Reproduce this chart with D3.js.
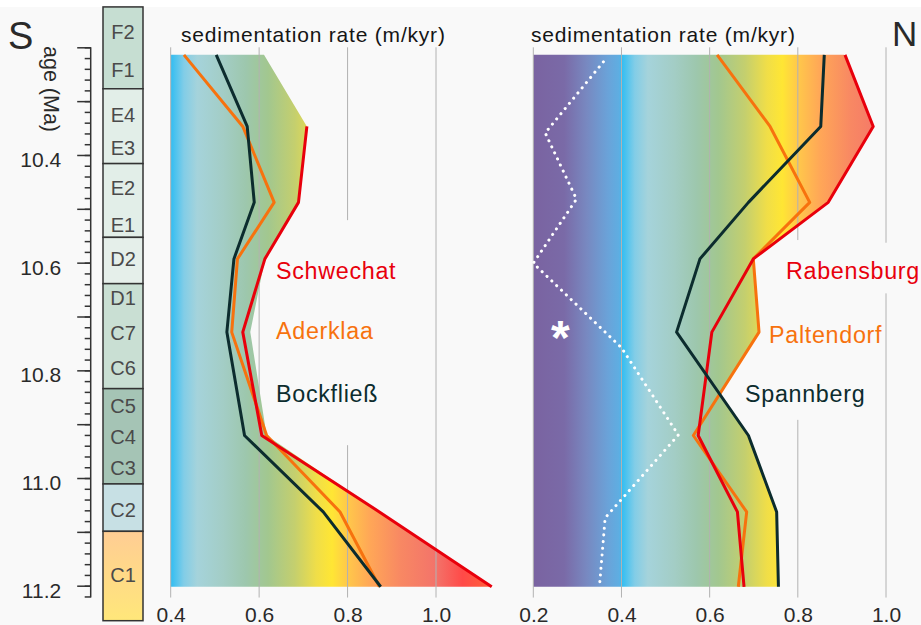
<!DOCTYPE html>
<html>
<head>
<meta charset="utf-8">
<script src="https://cdn.jsdelivr.net/npm/d3@7/dist/d3.min.js"></script>
<style>
  body { margin: 0; background: #fff; }
  text { font-family: "Liberation Sans", Arial, sans-serif; }
</style>
</head>
<body>
<svg id="chart" width="921" height="625"></svg>
<script>
// ages (Ma) of the sampled levels, shared by all six wells
var ages = [10.214, 10.347, 10.488, 10.593, 10.729, 10.921, 11.063, 11.202];

// south wells, sedimentation rate (m/kyr)
var schwechat  = [null, 0.708, 0.689, 0.613, 0.563, 0.606, 0.872, 1.126];
var aderklaa   = [0.430, 0.563, 0.634, 0.551, 0.538, 0.617, 0.783, 0.872];
var bockfliess = [0.503, 0.573, 0.589, 0.543, 0.527, 0.567, 0.745, 0.875];
var southFill  = [0.611, 0.708, 0.689, 0.613, 0.580, 0.617, 0.872, 1.126];

// north wells
var rabensburg = [0.907, 0.971, 0.869, 0.699, 0.605, 0.574, 0.663, 0.678];
var paltendorf = [0.617, 0.737, 0.827, 0.699, 0.712, 0.563, 0.684, 0.665];
var spannberg  = [0.860, 0.852, 0.688, 0.578, 0.525, 0.688, 0.752, 0.756];
var northFillAges = [10.214, 10.347, 10.488, 10.593, 10.729, 10.846, 10.921, 11.063, 11.202];
var northFill     = [0.905, 0.971, 0.869, 0.699, 0.712, 0.623, 0.688, 0.752, 0.756];

// dotted curve (*)
var starAges   = [10.227, 10.359, 10.482, 10.601, 10.758, 10.920, 11.074, 11.202];
var starValues = [0.359, 0.227, 0.298, 0.200, 0.400, 0.529, 0.363, 0.350];

// zone column
var zoneEdges  = [10.125, 10.277, 10.416, 10.553, 10.639, 10.834, 11.011, 11.099, 11.265];
var zoneNames  = ["F2", "F1", "E4", "E3", "E2", "E1", "D2", "D1", "C7", "C6", "C5", "C4", "C3", "C2", "C1"];
var zoneNameAges = [10.172, 10.242, 10.326, 10.387, 10.461, 10.530, 10.593, 10.666, 10.731, 10.796, 10.865, 10.924, 10.981, 11.059, 11.180];

var ageTicks   = [10.4, 10.6, 10.8, 11.0, 11.2];
var southTicks = [0.4, 0.6, 0.8, 1.0];
var northTicks = [0.2, 0.4, 0.6, 0.8, 1.0];

// colours
var zoneColors = ["#c6ded2", "#e2eee8", "#e2eee8", "#e5efea", "#c9dfd3", "#a5c4b5", "#c7e0e4", "url(#c1grad)"];
var rateStops = [
  [0.20, "#7a63a1"], [0.27, "#7a6aa7"], [0.32, "#7888c0"], [0.37, "#6aa3d9"], [0.395, "#5eaee2"],
  [0.40, "#30bdf2"], [0.43, "#82cde7"], [0.46, "#a5d3db"], [0.52, "#a3cdc5"], [0.57, "#9dc7ad"],
  [0.62, "#a2c78f"], [0.68, "#c4cf6e"], [0.73, "#f0de48"], [0.765, "#ffe634"], [0.80, "#ffc84a"],
  [0.85, "#ffa757"], [0.92, "#f88863"], [1.00, "#f3736a"], [1.06, "#ff4a48"], [1.13, "#ff6238"]
];
var red = "#e8000c", orange = "#f7720e", dark = "#0c2c2e";
var ink = "#2a2a2a";

var svg = d3.select("#chart");
var defs = svg.append("defs");

svg.append("rect").attr("x", 0).attr("y", 7).attr("width", 921).attr("height", 618).attr("fill", "#f9f9f9");

var y = d3.scaleLinear().domain([10.2, 11.2]).range([47.3, 585.7]);
var xS = d3.scaleLinear().domain([0.4, 1.0]).range([170.7, 436]);
var xN = d3.scaleLinear().domain([0.2, 1.0]).range([533.3, 886]);

// gradient per panel in user space so colour follows the rate value
function rateGradient(id, xs) {
  var g = defs.append("linearGradient").attr("id", id)
    .attr("gradientUnits", "userSpaceOnUse")
    .attr("x1", xs(0.2)).attr("x2", xs(1.13)).attr("y1", 0).attr("y2", 0);
  g.selectAll("stop").data(rateStops).enter().append("stop")
    .attr("offset", function(d) { return (d[0] - 0.2) / 0.93; })
    .attr("stop-color", function(d) { return d[1]; });
}
rateGradient("gradS", xS);
rateGradient("gradN", xN);

var c1 = defs.append("linearGradient").attr("id", "c1grad").attr("x1", 0).attr("x2", 0).attr("y1", 0).attr("y2", 1);
c1.append("stop").attr("offset", 0).attr("stop-color", "#ffcd94");
c1.append("stop").attr("offset", 1).attr("stop-color", "#ffe77a");

// zone column
var zones = svg.append("g").attr("class", "zones");
zones.selectAll("rect")
  .data(d3.range(zoneEdges.length - 1))
  .enter().append("rect")
  .attr("x", 103).attr("width", 40)
  .attr("y", function(i) { return y(zoneEdges[i]); })
  .attr("height", function(i) { return y(zoneEdges[i + 1]) - y(zoneEdges[i]); })
  .attr("fill", function(i) { return zoneColors[i]; })
  .attr("stroke", "#333").attr("stroke-width", 1.5);
zones.selectAll("text")
  .data(zoneNames)
  .enter().append("text")
  .attr("x", 123)
  .attr("y", function(d, i) { return y(zoneNameAges[i]); })
  .attr("dy", "0.36em")
  .attr("text-anchor", "middle")
  .attr("font-size", 20)
  .attr("fill", "#4a4a4a")
  .text(function(d) { return d; });

// age axis
var minorY = d3.scaleLinear().domain([10.2, 11.222]).range([y(10.2), y(11.222)]);
var axisG = svg.append("g").attr("transform", "translate(90.7,0)");
axisG.append("g")
  .call(d3.axisLeft(minorY).tickValues(d3.range(0, 52).map(function(i) { return 10.2 + i * 0.02; }))
    .tickSize(6).tickSizeOuter(0).tickFormat(""));
axisG.append("g")
  .call(d3.axisLeft(y).tickValues(d3.range(0, 11).map(function(i) { return 10.2 + i * 0.1; }))
    .tickSize(13.5).tickSizeOuter(0).tickPadding(16)
    .tickFormat(function(d) {
      return ageTicks.some(function(t) { return Math.abs(t - d) < 1e-6; }) ? d3.format(".1f")(d) : "";
    }));
axisG.selectAll(".domain").remove();
axisG.append("line").attr("x1", 0).attr("x2", 0).attr("y1", y(10.2)).attr("y2", y(11.222));
axisG.selectAll("line").attr("stroke", "#333").attr("stroke-width", 1.5);
axisG.selectAll("text").attr("font-size", 21).attr("fill", ink).attr("dy", "0.55em")
  .attr("font-family", "Liberation Sans, Arial, sans-serif");

svg.append("text")
  .attr("transform", "translate(44,46) rotate(90)")
  .attr("font-size", 21.5).attr("fill", ink)
  .text("age (Ma)");
svg.append("text").attr("x", 8).attr("y", 49).attr("font-size", 38).attr("fill", ink).text("S");
svg.append("text").attr("x", 892).attr("y", 46).attr("font-size", 35).attr("fill", ink).text("N");

// panel drawing
function panel(xs, gradId, fillAges, fillVals, minVal, ticks, gaps) {
  var g = svg.append("g");
  var area = d3.area()
    .x0(xs(minVal))
    .x1(function(d) { return xs(d[1]); })
    .y(function(d) { return y(d[0]); });
  g.append("path")
    .datum(fillAges.map(function(a, i) { return [a, fillVals[i]]; }))
    .attr("d", area)
    .attr("fill", "url(#" + gradId + ")");

  // grid lines with gaps for the well labels
  ticks.forEach(function(t) {
    var segs = [[10.2, 11.222]];
    var gap = gaps[t];
    if (gap) segs = [[10.2, gap[0]], [gap[1], 11.222]];
    segs.forEach(function(s) {
      g.append("line")
        .attr("x1", xs(t)).attr("x2", xs(t))
        .attr("y1", y(s[0])).attr("y2", y(s[1]))
        .attr("stroke", "#b2b2b2").attr("stroke-width", 1);
    });
  });

  var axis = d3.axisBottom(xs).tickValues(ticks).tickFormat(d3.format(".1f")).tickSize(0).tickPadding(0);
  var ax = g.append("g").attr("transform", "translate(0,607)").call(axis);
  ax.select(".domain").remove();
  ax.selectAll("text").attr("font-size", 21).attr("fill", ink).attr("dy", "0.71em")
    .attr("font-family", "Liberation Sans, Arial, sans-serif");
  return g;
}

function drawLine(g, xs, a, vals, color, width) {
  var line = d3.line()
    .defined(function(d) { return d[1] != null; })
    .x(function(d) { return xs(d[1]); })
    .y(function(d) { return y(d[0]); });
  return g.append("path")
    .datum(a.map(function(age, i) { return [age, vals[i]]; }))
    .attr("d", line)
    .attr("fill", "none")
    .attr("stroke", color)
    .attr("stroke-width", width)
    .attr("stroke-linejoin", "round");
}

var south = panel(xS, "gradS", ages, southFill, 0.4, southTicks, { 0.8: [10.521, 10.939] });
drawLine(south, xS, ages, aderklaa, orange, 3);
drawLine(south, xS, ages, schwechat, red, 3);
drawLine(south, xS, ages, bockfliess, dark, 3);

var north = panel(xN, "gradN", northFillAges, northFill, 0.2, northTicks,
  { 0.8: [10.558, 10.892], 1.0: [10.563, 10.657] });
drawLine(north, xN, starAges, starValues, "#ffffff", 3)
  .attr("stroke-dasharray", "0.1,6.6").attr("stroke-linecap", "round");
drawLine(north, xN, ages, paltendorf, orange, 3);
drawLine(north, xN, ages, rabensburg, red, 3);
drawLine(north, xN, ages, spannberg, dark, 3);

// titles and well labels
[181, 531].forEach(function(x) {
  svg.append("text").attr("x", x).attr("y", 41.7).attr("font-size", 21)
    .attr("letter-spacing", 0.8).attr("fill", "#151515").text("sedimentation rate (m/kyr)");
});

var wellLabels = [
  ["Schwechat", 276, 278.5, red], ["Aderklaa", 276, 339.3, orange], ["Bockfließ", 276, 401.5, dark],
  ["Rabensburg", 786, 279, red], ["Paltendorf", 769, 343, orange], ["Spannberg", 745, 402, dark]
];
svg.selectAll(".well").data(wellLabels).enter().append("text")
  .attr("class", "well")
  .attr("x", function(d) { return d[1]; })
  .attr("y", function(d) { return d[2]; })
  .attr("font-size", 23.3)
  .attr("letter-spacing", 0.7)
  .attr("fill", function(d) { return d[3]; })
  .text(function(d) { return d[0]; });

svg.append("text").attr("x", 551).attr("y", 354).attr("font-size", 48).attr("font-weight", "bold")
  .attr("fill", "#ffffff").text("*");
</script>
</body>
</html>
